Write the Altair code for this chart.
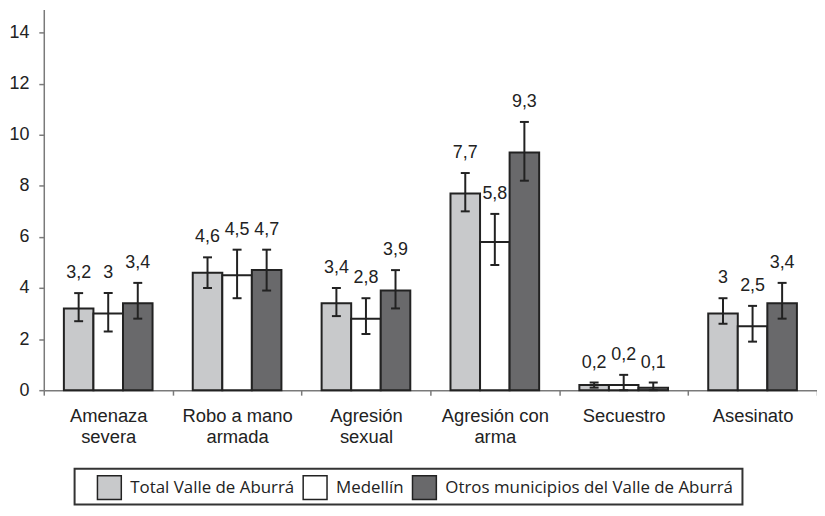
import altair as alt
import pandas as pd

categories = ["Amenaza|severa", "Robo a mano|armada", "Agresión|sexual",
              "Agresión con|arma", "Secuestro", "Asesinato"]
series = ["Total Valle de Aburrá", "Medellín", "Otros municipios del Valle de Aburrá"]
colors = ["#c8c9cb", "#ffffff", "#69696b"]

values = {
    "Total Valle de Aburrá": [3.2, 4.6, 3.4, 7.7, 0.2, 3.0],
    "Medellín": [3.0, 4.5, 2.8, 5.8, 0.2, 2.5],
    "Otros municipios del Valle de Aburrá": [3.4, 4.7, 3.9, 9.3, 0.1, 3.4],
}
lower = {
    "Total Valle de Aburrá": [2.7, 4.0, 2.9, 7.0, 0.1, 2.6],
    "Medellín": [2.3, 3.6, 2.2, 4.9, 0.0, 1.9],
    "Otros municipios del Valle de Aburrá": [2.8, 3.9, 3.2, 8.2, 0.0, 2.8],
}
upper = {
    "Total Valle de Aburrá": [3.8, 5.2, 4.0, 8.5, 0.3, 3.6],
    "Medellín": [3.8, 5.5, 3.6, 6.9, 0.6, 3.3],
    "Otros municipios del Valle de Aburrá": [4.2, 5.5, 4.7, 10.5, 0.3, 4.2],
}
y_ticks = [0, 2, 4, 6, 8, 10, 12, 14]

rows = []
for s in series:
    for i, c in enumerate(categories):
        v = values[s][i]
        rows.append({"cat": c, "serie": s, "val": v, "lo": lower[s][i], "hi": upper[s][i],
                     "lab": f"{v:g}".replace(".", ",")})
df = pd.DataFrame(rows)

INK = "#222222"
AXIS = "#7a7a7a"
FONT = "Arial, Liberation Sans, sans-serif"

x_enc = alt.X("cat:N", sort=categories,
              scale=alt.Scale(paddingInner=0, paddingOuter=0),
              axis=alt.Axis(title=None, labelExpr="split(datum.label, '|')",
                            labelAngle=0, labelFont=FONT, labelFontSize=18.5,
                            labelColor=INK, labelPadding=12, labelLineHeight=21,
                            labelBaseline="top",
                            tickBand="extent", tickSize=5, tickColor=AXIS, tickWidth=1.5,
                            domainColor=AXIS, domainWidth=1.5))
xo_enc = alt.XOffset("serie:N", sort=series,
                     scale=alt.Scale(paddingInner=0, paddingOuter=0.68))

y_scale = alt.Scale(domain=[0, 14.9])
y_axis = alt.Axis(title=None, values=y_ticks, grid=False, tickSize=5, tickColor=AXIS,
                  tickWidth=1.5, domainColor=AXIS, domainWidth=1.5, labelPadding=10,
                  labelFont=FONT, labelFontSize=18, labelColor=INK)

base = alt.Chart(df).encode(x=x_enc, xOffset=xo_enc)

bars = base.mark_bar(stroke=INK, strokeWidth=2).encode(
    y=alt.Y("val:Q", scale=y_scale, axis=y_axis),
    color=alt.Color("serie:N", sort=series,
                    scale=alt.Scale(domain=series, range=colors),
                    legend=alt.Legend(title=None, orient="none", legendX=53, legendY=468,
                                      direction="horizontal", symbolType="square",
                                      symbolSize=576, symbolStrokeColor=INK,
                                      symbolStrokeWidth=1.5, labelFont="Open Sans",
                                      labelFontSize=17, labelColor=INK, labelOffset=8,
                                      labelLimit=500, columnPadding=5, padding=0)),
)

rules = base.mark_rule(color=INK, strokeWidth=2).encode(y=alt.Y("lo:Q", scale=y_scale), y2="hi:Q")
cap_lo = base.mark_tick(color=INK, thickness=2, size=9, opacity=1).encode(y=alt.Y("lo:Q", scale=y_scale))
cap_hi = base.mark_tick(color=INK, thickness=2, size=9, opacity=1).encode(y=alt.Y("hi:Q", scale=y_scale))
labels = base.mark_text(font=FONT, fontSize=18, color=INK, dy=-20,
                        baseline="middle").encode(y=alt.Y("hi:Q", scale=y_scale), text="lab:N")

frame = alt.Chart(pd.DataFrame({"a": [0]})).mark_rect(
    fillOpacity=0, stroke="#333333", strokeWidth=2).encode(
    x=alt.value(31), x2=alt.value(703), y=alt.value(462), y2=alt.value(498))

chart = alt.layer(bars, rules, cap_lo, cap_hi, labels, frame).properties(
    width=778, height=383,
    autosize=alt.AutoSizeParams(type="none"),
    padding={"left": 36, "top": 0, "right": 0, "bottom": 117},
).configure_view(stroke=None)

chart.save("out.html", embed_options={"renderer": "svg", "actions": False})
